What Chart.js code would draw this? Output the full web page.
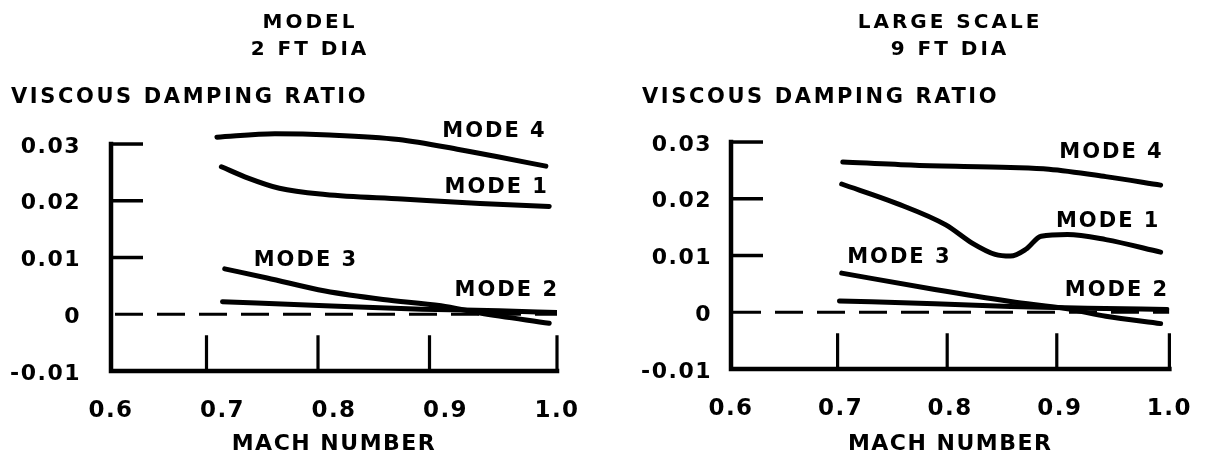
<!DOCTYPE html>
<html>
<head>
<meta charset="utf-8">
<script src="https://cdn.jsdelivr.net/npm/chart.js@4.4.1/dist/chart.umd.min.js"></script>
<style>
  html, body { margin: 0; padding: 0; background: #fff; }
  #wrap { position: relative; width: 1218px; height: 461px; }
  .panel { position: absolute; top: 0; width: 609px; height: 461px; }
  #left { left: 0; }
  #right { left: 609px; }
</style>
</head>
<body>
<div id="wrap">
  <div class="panel" id="left"><canvas id="modelChart"></canvas></div>
  <div class="panel" id="right"><canvas id="largeChart"></canvas></div>
</div>
<script>
  // Mach number / damping ratio curves, model (2 ft) and large scale (9 ft)
  const xTicks = [0.6, 0.7, 0.8, 0.9, 1.0];
  const yTicks = [0.03, 0.02, 0.01, 0, -0.01];

  const modelMode4 = [[0.695, 0.0312], [0.747, 0.0318], [0.796, 0.0316], [0.858, 0.0308], [0.913, 0.0290], [0.948, 0.0277], [0.990, 0.0261]];
  const modelMode1 = [[0.699, 0.0260], [0.723, 0.0240], [0.751, 0.0222], [0.792, 0.0211], [0.861, 0.0203], [0.931, 0.0195], [0.993, 0.0190]];
  const modelMode3 = [[0.702, 0.0080], [0.740, 0.0064], [0.792, 0.0041], [0.844, 0.0026], [0.896, 0.0015], [0.931, 0.0002], [0.993, -0.0016]];
  const modelMode2 = [[0.700, 0.0022], [0.792, 0.0015], [0.879, 0.0009], [0.948, 0.0006], [1.000, 0.0003]];

  const largeMode4 = [[0.702, 0.0265], [0.768, 0.0259], [0.855, 0.0255], [0.890, 0.0252], [0.942, 0.0239], [0.992, 0.0224]];
  const largeMode1 = [[0.701, 0.0226], [0.751, 0.0192], [0.796, 0.0154], [0.820, 0.0122], [0.841, 0.0102], [0.855, 0.0099], [0.869, 0.0111], [0.883, 0.0134], [0.907, 0.0137], [0.942, 0.0128], [0.992, 0.0106]];
  const largeMode3 = [[0.701, 0.0069], [0.786, 0.0040], [0.855, 0.0019], [0.907, 0.0006], [0.942, -0.0007], [0.992, -0.0020]];
  const largeMode2 = [[0.699, 0.0020], [0.786, 0.0015], [0.855, 0.0010], [0.925, 0.0007], [0.998, 0.0005]];

  // curve labels: text, x where text ends (or starts), baseline y
  const modelLabels = [['MODE 4', 0.989, 0.0312, 'right'], ['MODE 1', 0.991, 0.0214, 'right'], ['MODE 3', 0.728, 0.0085, 'left'], ['MODE 2', 1.0, 0.0032, 'right']];
  const largeLabels = [['MODE 4', 0.993, 0.0271, 'right'], ['MODE 1', 0.99, 0.0151, 'right'], ['MODE 3', 0.706, 0.0087, 'left'], ['MODE 2', 0.998, 0.0029, 'right']];

  const FONT = '"DejaVu Sans", Verdana, sans-serif';

  function pts(arr) { return arr.map(p => ({ x: p[0], y: p[1] })); }

  function curve(data) {
    return {
      data: pts(data),
      borderColor: '#000',
      borderWidth: 5,
      borderCapStyle: 'round',
      borderJoinStyle: 'round',
      pointRadius: 0,
      tension: 0.4,
      cubicInterpolationMode: 'monotone',
      fill: false
    };
  }

  // a little extra letter spacing for the tick and axis text
  const spacing = {
    id: 'spacing',
    beforeLayout(chart) { chart.ctx.letterSpacing = '1.5px'; },
    beforeDraw(chart) { chart.ctx.letterSpacing = '1.5px'; }
  };

  // axis frame, tick marks, titles and curve labels
  const frame = {
    id: 'frame',
    afterDatasetsDraw(chart, args, opts) {
      const ctx = chart.ctx;
      const xs = chart.scales.x, ys = chart.scales.y;
      const x0 = xs.getPixelForValue(0.6), x1 = xs.getPixelForValue(1.0);
      const yTop = ys.getPixelForValue(0.03), yBot = ys.getPixelForValue(-0.01);
      ctx.save();
      ctx.strokeStyle = '#000';
      ctx.lineCap = 'square';
      ctx.lineWidth = 4.5;
      ctx.beginPath();
      ctx.moveTo(x0, yTop);
      ctx.lineTo(x0, yBot);
      ctx.lineTo(x1, yBot);
      ctx.stroke();

      ctx.lineWidth = 3.5;
      ctx.lineCap = 'butt';
      [0.03, 0.02, 0.01].forEach(v => {
        const y = ys.getPixelForValue(v);
        ctx.beginPath();
        ctx.moveTo(x0, y);
        ctx.lineTo(x0 + 32, y);
        ctx.stroke();
      });
      ctx.lineWidth = 3.2;
      [0.7, 0.8, 0.9, 1.0].forEach(v => {
        const x = xs.getPixelForValue(v) + (v < 1 ? opts.tickShift : 0);
        ctx.beginPath();
        ctx.moveTo(x, yBot);
        ctx.lineTo(x, ys.getPixelForValue(-0.0037));
        ctx.stroke();
      });

      ctx.fillStyle = '#000';
      ctx.textBaseline = 'alphabetic';
      ctx.letterSpacing = '3px';
      ctx.font = 'bold 20px ' + FONT;
      ctx.textAlign = 'center';
      ctx.fillText(opts.title[0], opts.titleX, 28);
      ctx.fillText(opts.title[1], opts.titleX, 55);
      ctx.textAlign = 'left';
      ctx.letterSpacing = '2.6px';
      ctx.font = 'bold 21px ' + FONT;
      ctx.fillText('VISCOUS DAMPING RATIO', opts.yTitleX, 103);

      ctx.letterSpacing = '2px';
      opts.labels.forEach(l => {
        ctx.textAlign = l[3];
        const px = xs.getPixelForValue(l[1]) + (l[3] === 'right' ? 2 : 0);
        ctx.fillText(l[0], px, ys.getPixelForValue(l[2]));
      });
      ctx.restore();
    }
  };

  function makeChart(id, modes, cfg) {
    const zero = {
      data: [{ x: 0.6, y: 0 }, { x: 1.0, y: 0 }],
      borderColor: '#000',
      borderWidth: 3,
      borderDash: [28, 14],
      borderDashOffset: cfg.dashOffset,
      pointRadius: 0,
      fill: false
    };
    return new Chart(document.getElementById(id), {
      type: 'line',
      data: { datasets: [zero].concat(modes.map(curve)) },
      plugins: [spacing, frame],
      options: {
        responsive: true,
        maintainAspectRatio: false,
        animation: false,
        events: [],
        layout: { padding: { top: cfg.top, right: cfg.right, left: 0, bottom: 0 } },
        plugins: {
          legend: { display: false },
          tooltip: { enabled: false },
          frame: cfg.frame
        },
        scales: {
          x: {
            type: 'linear',
            min: 0.6,
            max: 1.0,
            afterBuildTicks: s => { s.ticks = xTicks.map(v => ({ value: v })); },
            afterFit: s => { s.height = cfg.bottom; },
            grid: { display: false, drawTicks: false },
            border: { display: false },
            ticks: {
              color: '#000',
              padding: 26,
              maxRotation: 0,
              autoSkip: false,
              font: { family: FONT, size: 23, weight: 'bold' },
              callback: v => v.toFixed(1)
            },
            title: {
              display: true,
              text: 'MACH NUMBER',
              color: '#000',
              padding: { top: 0, bottom: 4 },
              font: { family: FONT, size: 22, weight: 'bold' }
            }
          },
          y: {
            type: 'linear',
            min: -0.01,
            max: 0.033,
            afterBuildTicks: s => { s.ticks = yTicks.map(v => ({ value: v })); },
            afterFit: s => { s.width = cfg.left; },
            grid: { display: false, drawTicks: false },
            border: { display: false },
            ticks: {
              color: '#000',
              padding: cfg.yPad,
              labelOffset: 3,
              font: { family: FONT, size: 22, weight: 'bold' },
              callback: v => (v === 0 ? '0' : v.toFixed(2))
            }
          }
        }
      }
    });
  }

  makeChart('modelChart', [modelMode4, modelMode1, modelMode3, modelMode2], {
    top: 127, right: 52, left: 111, bottom: 90, yPad: 30, dashOffset: -4,
    frame: { title: ['MODEL', '2 FT DIA'], titleX: 310, yTitleX: 11, labels: modelLabels, tickShift: -16 }
  });

  makeChart('largeChart', [largeMode4, largeMode1, largeMode3, largeMode2], {
    top: 125, right: 36, left: 122, bottom: 92, yPad: 19, dashOffset: -2,
    frame: { title: ['LARGE SCALE', '9 FT DIA'], titleX: 341, yTitleX: 33, labels: largeLabels, tickShift: -3 }
  });
</script>
</body>
</html>
